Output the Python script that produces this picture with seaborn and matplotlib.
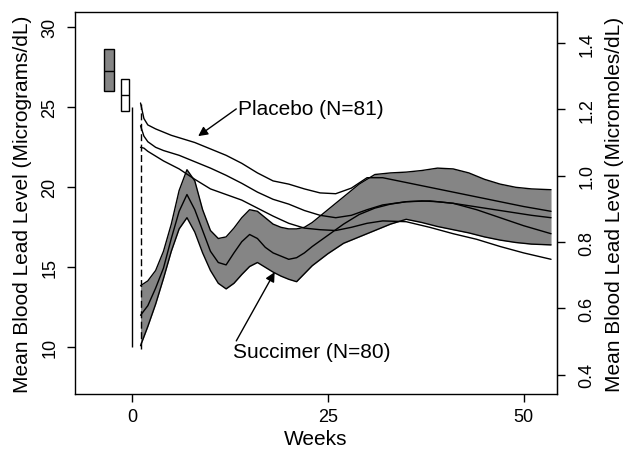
#!/usr/bin/env python3

import seaborn as sns
import pandas as pd
import matplotlib.pyplot as plt
from matplotlib.patches import Rectangle

# succimer group: mean and band (ug/dL) by week
weeks_succ = [1.07, 2, 3, 4, 5, 6, 7, 8, 9, 10, 11, 12, 13, 14, 15, 16, 17, 18, 19, 20,
              21, 22, 23, 25, 27, 29, 31, 33, 35, 37, 39, 41, 43, 45, 47, 49, 51, 53.5]
succ_upper = [13.85, 14.15, 14.8, 16.0, 17.7, 19.8, 21.1, 20.4, 18.6, 17.3, 16.8, 16.9, 17.45,
              18.1, 18.6, 18.5, 18.1, 17.7, 17.5, 17.4, 17.4, 17.5, 17.8, 18.6, 19.4, 20.2,
              20.8, 20.9, 20.95, 21.05, 21.2, 21.15, 20.9, 20.5, 20.2, 20.0, 19.9, 19.85]
succ_mean = [12.0, 12.6, 13.7, 14.95, 16.8, 18.5, 19.55, 18.6, 17.3, 16.0, 15.3, 15.15, 15.9,
             16.6, 17.05, 16.8, 16.25, 15.9, 15.7, 15.5, 15.6, 15.9, 16.3, 17.0, 17.7, 18.3,
             18.7, 18.95, 19.1, 19.15, 19.1, 19.0, 18.85, 18.7, 18.55, 18.4, 18.25, 18.1]
succ_lower = [10.1, 11.3, 12.7, 14.3, 16.0, 17.4, 18.1, 17.2, 15.9, 14.8, 14.0, 13.65, 14.0,
              14.55, 15.05, 15.3, 15.0, 14.7, 14.45, 14.25, 14.1, 14.6, 15.1, 15.85, 16.5,
              16.9, 17.3, 17.7, 18.0, 17.8, 17.55, 17.35, 17.15, 16.9, 16.7, 16.55, 16.45, 16.4]

# placebo group
weeks_plac = [1.07, 1.5, 2, 3, 4, 5, 6, 8, 10, 12, 14, 16, 18, 20, 22, 24, 26, 28, 30, 32,
              35, 38, 41, 44, 47, 50, 53.5]
plac_upper = [25.27, 24.3, 23.9, 23.65, 23.45, 23.25, 23.1, 22.8, 22.4, 22.0, 21.5, 20.9, 20.4,
              20.2, 19.9, 19.65, 19.6, 19.95, 20.6, 20.6, 20.3, 20.0, 19.7, 19.4, 19.1, 18.8, 18.5]
plac_mean = [23.85, 23.2, 22.85, 22.5, 22.3, 22.15, 22.0, 21.6, 21.2, 20.75, 20.25, 19.7, 19.25,
             18.95, 18.55, 18.25, 18.1, 18.25, 18.6, 18.9, 19.1, 19.15, 19.0, 18.6, 18.1, 17.6, 17.1]
plac_lower = [22.5, 22.45, 22.25, 21.95, 21.65, 21.4, 21.15, 20.5, 19.9, 19.55, 19.2, 18.7, 18.2,
              17.75, 17.45, 17.35, 17.3, 17.5, 17.75, 17.9, 17.85, 17.5, 17.1, 16.75, 16.3, 15.9, 15.5]

# baseline boxes: low, median, high
baseline_succ = [26.0, 27.3, 28.65]
baseline_plac = [24.75, 25.8, 26.75]

UG_TO_UMOL = 0.04826


def create_plot(outputfig):
    sns.set_style("ticks")
    plt.rcParams['font.family'] = ['Liberation Sans', 'DejaVu Sans']
    plt.rcParams.update({"text.color": "black", "axes.labelcolor": "black",
                         "xtick.color": "black", "ytick.color": "black"})

    fig = plt.figure(figsize=(6.3, 4.56), dpi=100)
    ax = fig.add_axes([75 / 630, 1 - 395 / 456, (557.3 - 75) / 630, (395 - 13.3) / 456])

    ax.fill_between(weeks_succ, succ_lower, succ_upper, color="#858585", lw=0, zorder=1)

    rows = []
    for name, wk, vals in [("su", weeks_succ, succ_upper), ("sm", weeks_succ, succ_mean),
                           ("sl", weeks_succ, succ_lower), ("pu", weeks_plac, plac_upper),
                           ("pm", weeks_plac, plac_mean), ("pl", weeks_plac, plac_lower)]:
        rows.append(pd.DataFrame({"week": wk, "value": vals, "curve": name}))
    data = pd.concat(rows, ignore_index=True)
    sns.lineplot(data=data, x="week", y="value", units="curve", estimator=None,
                 color="black", lw=1.0, ax=ax, legend=False, zorder=3)

    # start-of-treatment markers
    ax.vlines(0, 10, 25, color="black", lw=1.0)
    ax.vlines(1.07, 9.9, 25.2, color="black", lw=1.0, linestyles=(0, (5, 2.5)))

    # baseline boxes
    for (x0, x1), vals, fc in [((-3.6, -2.34), baseline_succ, "#858585"),
                                ((-1.48, -0.38), baseline_plac, "white")]:
        ax.add_patch(Rectangle((x0, vals[0]), x1 - x0, vals[2] - vals[0],
                               facecolor=fc, edgecolor="black", lw=1.0, zorder=4))
        ax.hlines(vals[1], x0, x1, color="black", lw=1.0, zorder=5)

    arrow = dict(arrowstyle="-|>", color="black", lw=1.0, mutation_scale=14,
                 shrinkA=0, shrinkB=0)
    ax.annotate("", xy=(8.43, 23.2), xytext=(13.3, 24.9), arrowprops=arrow)
    ax.text(13.5, 24.9, "Placebo (N=81)", fontsize=15, ha="left", va="center")
    ax.annotate("", xy=(18.2, 14.7), xytext=(13.3, 10.4), arrowprops=arrow)
    ax.text(12.9, 9.75, "Succimer (N=80)", fontsize=15, ha="left", va="center")

    ax.set_xlim(-7.3, 54.3)
    ax.set_ylim(7.08, 30.94)
    ax.set_xticks([0, 25, 50])
    ax.set_yticks([10, 15, 20, 25, 30])
    ax.tick_params(direction="out", length=6, width=1, labelsize=13, color="black", pad=6)
    ax.tick_params(axis="x", pad=4)
    for lab in ax.get_yticklabels():
        lab.set_rotation(90)
        lab.set_va("center")
    for side in ["left", "right", "top", "bottom"]:
        ax.spines[side].set_color("black")
        ax.spines[side].set_linewidth(1.0)

    ax.set_xlabel("Weeks", fontsize=15, labelpad=3)
    ax.set_ylabel("Mean Blood Lead Level (Micrograms/dL)", fontsize=15, labelpad=7)

    sec = ax.secondary_yaxis("right", functions=(lambda v: v * UG_TO_UMOL,
                                                 lambda v: v / UG_TO_UMOL))
    sec.set_yticks([0.4, 0.6, 0.8, 1.0, 1.2, 1.4])
    sec.set_yticklabels(["0.4", "0.6", "0.8", "1.0", "1.2", "1.4"])
    sec.tick_params(direction="out", length=6, width=1, labelsize=13, color="black", pad=9)
    for lab in sec.get_yticklabels():
        lab.set_rotation(90)
        lab.set_va("center")
    sec.spines["right"].set_color("black")
    sec.set_ylabel("Mean Blood Lead Level (Micromoles/dL)", fontsize=15, labelpad=7)

    fig.savefig(outputfig, dpi=100)
    plt.close(fig)


def main():
    create_plot("out.png")


if __name__ == '__main__':
    main()
